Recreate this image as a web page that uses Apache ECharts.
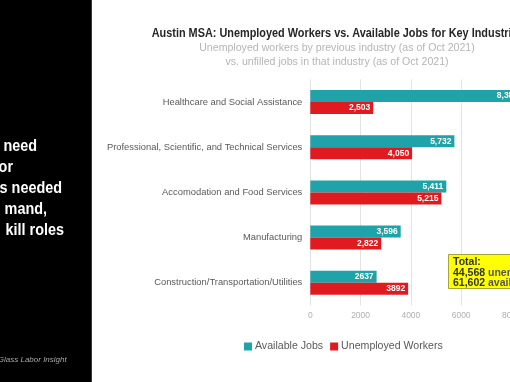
<!DOCTYPE html>
<html><head><meta charset="utf-8">
<script src="https://cdn.jsdelivr.net/npm/echarts@6/dist/echarts.min.js"></script>
<style>html,body{margin:0;padding:0;overflow:hidden;background:#fff;width:510px;height:382px}#c{width:620px;height:382px}</style>
</head><body><div id="c"></div>
<script>
const categories = ['Healthcare and Social Assistance','Professional, Scientific, and Technical Services','Accomodation and Food Services','Manufacturing','Construction/Transportation/Utilities'];
const availableJobs = [8384, 5732, 5411, 3596, 2637];
const unemployedWorkers = [2503, 4050, 5215, 2822, 3892];
const availableLabels = ['8,384','5,732','5,411','3,596','2637'];
const unemployedLabels = ['2,503','4,050','5,215','2,822','3892'];
const xTicks = [0, 2000, 4000, 6000, 8000, 10000];
const totalUnemployed = '44,568';
const totalAvailable = '61,602';
const titleText = 'Austin MSA: Unemployed Workers vs. Available Jobs for Key Industries';
const sideLines = ['need','or','s needed','mand,','kill roles'];
const sideRight = [37, 13, 62, 47, 64];

const mctx = document.createElement('canvas').getContext('2d');
function widthOf(text, font){ mctx.font = font; return mctx.measureText(text).width; }
const titleFont = "bold 13px 'Liberation Sans'";
const titleScale = 372 / widthOf(titleText, titleFont);
const sideFont = "bold 16px 'Liberation Sans'";

const chart = echarts.init(document.getElementById('c'));
const graphics = [
  {type:'rect', shape:{x:0,y:0,width:91,height:382}, style:{fill:'#000'}, z:10},
  {type:'rect', shape:{x:91,y:0,width:1,height:382}, style:{fill:'#3a3a3a'}, z:10},
  {type:'text', x:66.7, y:360, z:11, style:{text:'Glass Labor Insight', fill:'#a8a8a8', font:"italic 8px 'Liberation Sans'", align:'right', verticalAlign:'middle'}},
  {type:'text', x:151.7, y:33.5, scaleX:titleScale, z:11, style:{text:titleText, fill:'#262626', font:titleFont, align:'left', verticalAlign:'middle'}}
];
sideLines.forEach((t,i)=>graphics.push({type:'text', x:sideRight[i], y:146.7+i*21, scaleX:0.9, z:11,
  style:{text:t, fill:'#fff', font:sideFont, align:'right', verticalAlign:'middle'}}));

chart.setOption({
  animation:false,
  backgroundColor:'#fff',
  title:[
    {text:'Unemployed workers by previous industry (as of Oct 2021)\nvs. unfilled jobs in that industry (as of Oct 2021)', left:337, top:41.3, textAlign:'center', padding:0,
     textStyle:{fontFamily:'Liberation Sans', fontWeight:'normal', fontSize:10.6, lineHeight:14, color:'#b5b5b5'}},
    {text:'{b|Total:}\n{b|'+totalUnemployed+'} {r|unemployed}\n{b|'+totalAvailable+'} {r|available}', left:448, top:254,
     backgroundColor:'#ffff00', borderColor:'#a5a53a', borderWidth:1, padding:[3,6,0,5],
     textStyle:{fontFamily:'Liberation Sans', fontSize:10.5, lineHeight:10.5,
       rich:{b:{fontFamily:'Liberation Sans', fontWeight:'bold', fontSize:10.5, color:'#333', lineHeight:10.5},
             r:{fontFamily:'Liberation Sans', fontSize:10.5, color:'#555', lineHeight:10.5}}}}
  ],
  legend:{left:239, top:336, itemWidth:8, itemHeight:8, itemGap:7, icon:'rect',
    textStyle:{fontFamily:'Liberation Sans', fontSize:10.6, color:'#595959', padding:[0,0,0,-2]}},
  grid:{left:310.3, top:79.4, height:226, right:58.3},
  xAxis:{type:'value', min:0, max:10000, interval:2000,
    axisLine:{show:false}, axisTick:{show:false},
    splitLine:{lineStyle:{color:'#e3e3e3', width:1}},
    axisLabel:{fontFamily:'Liberation Sans', fontSize:8.5, color:'#b0b0b0', margin:6,
      formatter:v=>xTicks.includes(v)?String(v):''}},
  yAxis:{type:'category', data:categories, inverse:true,
    axisLine:{show:false}, axisTick:{show:false},
    axisLabel:{fontFamily:'Liberation Sans', fontSize:9.4, color:'#595959', margin:8}},
  series:[
    {name:'Available Jobs', type:'bar', data:availableJobs, barGap:'0%', barCategoryGap:'47%',
     itemStyle:{color:'#1fa3a8'},
     label:{show:true, position:'insideRight', distance:3, color:'#fff', fontFamily:'Liberation Sans', fontWeight:'bold', fontSize:8.5,
       formatter:p=>availableLabels[p.dataIndex]}},
    {name:'Unemployed Workers', type:'bar', data:unemployedWorkers,
     itemStyle:{color:'#e01b1f'},
     label:{show:true, position:'insideRight', distance:3, color:'#fff', fontFamily:'Liberation Sans', fontWeight:'bold', fontSize:8.5,
       formatter:p=>unemployedLabels[p.dataIndex]}}
  ],
  graphic:graphics
});
</script></body></html>
